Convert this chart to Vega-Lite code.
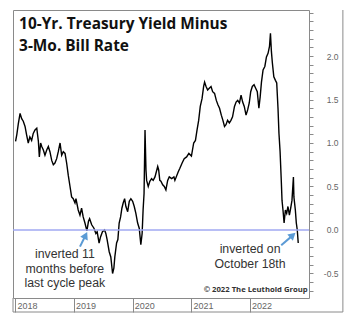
{
  "$schema": "https://vega.github.io/schema/vega-lite/v6.json",
  "width": 296,
  "height": 288,
  "autosize": "none",
  "padding": {"left": 13, "top": 10, "right": 41, "bottom": 24},
  "background": "white",
  "config": {"view": {"stroke": "#8a8a8a", "strokeWidth": 1}, "font": "Liberation Sans"},
  "resolve": {"axis": {"x": "independent", "y": "independent"}},
  "data": {"values": [{}]},
  "datasets": {
    "spread": [
      {"date":"2018-01-02","value":1.02},{"date":"2018-01-10","value":1.10},{"date":"2018-01-19","value":1.22},{"date":"2018-01-30","value":1.34},
      {"date":"2018-02-09","value":1.28},{"date":"2018-02-19","value":1.25},{"date":"2018-03-02","value":1.19},{"date":"2018-03-12","value":1.09},
      {"date":"2018-03-22","value":1.00},{"date":"2018-04-01","value":1.07},{"date":"2018-04-12","value":1.03},{"date":"2018-04-22","value":1.11},
      {"date":"2018-05-03","value":1.15},{"date":"2018-05-14","value":1.17},{"date":"2018-05-24","value":1.02},{"date":"2018-05-30","value":0.84},
      {"date":"2018-06-07","value":1.00},{"date":"2018-06-14","value":0.96},{"date":"2018-06-24","value":0.92},{"date":"2018-07-04","value":0.86},
      {"date":"2018-07-15","value":0.92},{"date":"2018-07-25","value":0.96},{"date":"2018-08-04","value":0.90},{"date":"2018-08-15","value":0.80},
      {"date":"2018-08-25","value":0.75},{"date":"2018-09-04","value":0.77},{"date":"2018-09-15","value":0.82},{"date":"2018-09-25","value":0.90},
      {"date":"2018-10-06","value":1.00},{"date":"2018-10-16","value":0.86},{"date":"2018-10-26","value":0.90},{"date":"2018-11-06","value":0.88},
      {"date":"2018-11-16","value":0.77},{"date":"2018-11-26","value":0.63},{"date":"2018-12-07","value":0.50},{"date":"2018-12-17","value":0.38},
      {"date":"2018-12-27","value":0.36},{"date":"2019-01-07","value":0.31},{"date":"2019-01-13","value":0.36},{"date":"2019-01-27","value":0.23},
      {"date":"2019-02-07","value":0.17},{"date":"2019-02-17","value":0.25},{"date":"2019-02-27","value":0.15},{"date":"2019-03-10","value":0.08},
      {"date":"2019-03-22","value":-0.01},{"date":"2019-04-01","value":0.10},{"date":"2019-04-08","value":0.13},{"date":"2019-04-21","value":0.06},
      {"date":"2019-05-05","value":0.02},{"date":"2019-05-17","value":-0.04},{"date":"2019-05-25","value":-0.02},{"date":"2019-06-06","value":-0.15},
      {"date":"2019-06-15","value":-0.08},{"date":"2019-06-27","value":-0.02},{"date":"2019-07-10","value":0.00},{"date":"2019-07-18","value":-0.04},
      {"date":"2019-07-26","value":-0.11},{"date":"2019-08-08","value":-0.25},{"date":"2019-08-18","value":-0.31},{"date":"2019-08-29","value":-0.50},
      {"date":"2019-09-06","value":-0.44},{"date":"2019-09-12","value":-0.31},{"date":"2019-09-23","value":-0.15},{"date":"2019-10-01","value":-0.11},
      {"date":"2019-10-09","value":0.08},{"date":"2019-10-18","value":0.15},{"date":"2019-10-26","value":0.25},{"date":"2019-11-03","value":0.31},
      {"date":"2019-11-12","value":0.36},{"date":"2019-11-20","value":0.27},{"date":"2019-12-01","value":0.21},{"date":"2019-12-11","value":0.33},
      {"date":"2019-12-21","value":0.36},{"date":"2020-01-01","value":0.33},{"date":"2020-01-11","value":0.27},{"date":"2020-01-21","value":0.19},
      {"date":"2020-02-01","value":0.08},{"date":"2020-02-11","value":0.02},{"date":"2020-02-21","value":-0.17},{"date":"2020-02-29","value":-0.04},
      {"date":"2020-03-06","value":0.23},{"date":"2020-03-12","value":0.42},{"date":"2020-03-18","value":1.15},{"date":"2020-03-24","value":0.69},
      {"date":"2020-03-28","value":0.57},{"date":"2020-04-07","value":0.50},{"date":"2020-04-17","value":0.56},{"date":"2020-04-28","value":0.59},
      {"date":"2020-05-08","value":0.57},{"date":"2020-05-19","value":0.61},{"date":"2020-06-05","value":0.73},{"date":"2020-06-11","value":0.69},
      {"date":"2020-06-18","value":0.57},{"date":"2020-06-25","value":0.56},{"date":"2020-07-06","value":0.52},{"date":"2020-07-16","value":0.50},
      {"date":"2020-07-26","value":0.46},{"date":"2020-08-06","value":0.57},{"date":"2020-08-16","value":0.61},{"date":"2020-08-31","value":0.59},
      {"date":"2020-09-14","value":0.61},{"date":"2020-09-20","value":0.57},{"date":"2020-10-11","value":0.67},{"date":"2020-10-21","value":0.71},
      {"date":"2020-11-04","value":0.77},{"date":"2020-11-17","value":0.82},{"date":"2020-12-02","value":0.84},{"date":"2020-12-16","value":0.88},
      {"date":"2021-01-01","value":0.85},{"date":"2021-01-15","value":1.00},{"date":"2021-01-26","value":1.03},{"date":"2021-02-05","value":1.15},
      {"date":"2021-02-15","value":1.26},{"date":"2021-02-25","value":1.42},{"date":"2021-03-08","value":1.51},{"date":"2021-03-18","value":1.65},
      {"date":"2021-03-24","value":1.70},{"date":"2021-04-02","value":1.65},{"date":"2021-04-12","value":1.61},{"date":"2021-04-22","value":1.63},
      {"date":"2021-05-03","value":1.65},{"date":"2021-05-13","value":1.59},{"date":"2021-05-25","value":1.57},{"date":"2021-06-05","value":1.49},
      {"date":"2021-06-15","value":1.44},{"date":"2021-06-25","value":1.40},{"date":"2021-07-06","value":1.32},{"date":"2021-07-16","value":1.26},
      {"date":"2021-07-26","value":1.19},{"date":"2021-08-04","value":1.21},{"date":"2021-08-14","value":1.26},{"date":"2021-08-25","value":1.23},
      {"date":"2021-09-04","value":1.26},{"date":"2021-09-14","value":1.30},{"date":"2021-09-26","value":1.42},{"date":"2021-10-06","value":1.47},
      {"date":"2021-10-16","value":1.49},{"date":"2021-10-27","value":1.46},{"date":"2021-11-06","value":1.55},{"date":"2021-11-16","value":1.47},
      {"date":"2021-11-26","value":1.42},{"date":"2021-12-07","value":1.32},{"date":"2021-12-17","value":1.38},{"date":"2021-12-27","value":1.46},
      {"date":"2022-01-05","value":1.59},{"date":"2022-01-15","value":1.65},{"date":"2022-01-26","value":1.67},{"date":"2022-02-05","value":1.63},
      {"date":"2022-02-15","value":1.59},{"date":"2022-02-25","value":1.40},{"date":"2022-03-05","value":1.53},{"date":"2022-03-13","value":1.70},
      {"date":"2022-03-23","value":1.84},{"date":"2022-04-03","value":1.88},{"date":"2022-04-13","value":1.99},{"date":"2022-04-23","value":2.03},
      {"date":"2022-05-02","value":2.11},{"date":"2022-05-08","value":2.26},{"date":"2022-05-14","value":2.05},{"date":"2022-05-20","value":1.92},
      {"date":"2022-05-29","value":1.76},{"date":"2022-06-08","value":1.72},{"date":"2022-06-16","value":1.69},{"date":"2022-06-24","value":1.40},
      {"date":"2022-06-30","value":1.11},{"date":"2022-07-07","value":0.90},{"date":"2022-07-15","value":0.54},{"date":"2022-07-19","value":0.34},
      {"date":"2022-07-25","value":0.23},{"date":"2022-08-01","value":0.08},{"date":"2022-08-09","value":0.23},{"date":"2022-08-17","value":0.19},
      {"date":"2022-08-25","value":0.27},{"date":"2022-09-03","value":0.17},{"date":"2022-09-11","value":0.25},{"date":"2022-09-19","value":0.34},
      {"date":"2022-09-28","value":0.61},{"date":"2022-10-01","value":0.38},{"date":"2022-10-10","value":0.23},{"date":"2022-10-16","value":0.08},
      {"date":"2022-10-22","value":0.00},{"date":"2022-10-28","value":-0.15}
    ]
  },
  "layer": [
    {
      "data": {"name": "spread"},
      "mark": {"type": "line", "color": "#000000", "strokeWidth": 1.4, "interpolate": "linear"},
      "encoding": {
        "x": {
          "field": "date", "type": "temporal",
          "scale": {"domain": [{"year": 2017, "month": 12, "date": 17}, {"year": 2023, "month": 1, "date": 3}], "nice": false},
          "axis": {
            "orient": "bottom", "domain": false, "grid": false, "title": null,
            "values": [{"year": 2018, "month": 1, "date": 1}, {"year": 2019, "month": 1, "date": 1}, {"year": 2020, "month": 1, "date": 1}, {"year": 2021, "month": 1, "date": 1}, {"year": 2022, "month": 1, "date": 1}],
            "format": "%Y", "tickSize": 14, "tickColor": "#8a8a8a",
            "labelAlign": "left", "labelBaseline": "middle", "labelPadding": -7, "labelOffset": 1.5,
            "labelFont": "Liberation Sans", "labelFontSize": 9, "labelColor": "#666666", "labelOverlap": false
          }
        },
        "y": {
          "field": "value", "type": "quantitative",
          "scale": {"domain": [-0.782, 2.529], "nice": false, "zero": false},
          "axis": {
            "orient": "right", "domain": false, "grid": false, "title": null,
            "values": [-0.7,-0.6,-0.5,-0.4,-0.3,-0.2,-0.1,0,0.1,0.2,0.3,0.4,0.5,0.6,0.7,0.8,0.9,1,1.1,1.2,1.3,1.4,1.5,1.6,1.7,1.8,1.9,2,2.1,2.2,2.3,2.4,2.5],
            "labelExpr": "(datum.value < 2.25 && abs(datum.value * 2 - round(datum.value * 2)) < 0.001) ? replace(format(datum.value, '.1f'), '\u2212', '-') : ''",
            "tickSize": 4, "tickColor": "#8a8a8a",
            "labelAlign": "right", "labelBaseline": "middle", "labelPadding": 25,
            "labelFont": "Liberation Sans", "labelFontSize": 8.5, "labelColor": "#666666", "labelOverlap": false
          }
        }
      }
    },
    {
      "mark": {"type": "rule", "color": "#a0a8f2", "strokeWidth": 1.3},
      "encoding": {
        "x": {"datum": {"year": 2017, "month": 12, "date": 17}, "type": "temporal", "axis": null},
        "x2": {"datum": {"year": 2023, "month": 1, "date": 3}},
        "y": {"datum": 0, "type": "quantitative", "axis": null}
      }
    },
    {
      "mark": {"type": "rule", "color": "#8a8a8a", "strokeWidth": 1},
      "encoding": {
        "x": {"datum": {"year": 2023, "month": 8, "date": 2}, "type": "temporal", "axis": null},
        "y": {"datum": 2.529, "type": "quantitative", "axis": null},
        "y2": {"datum": -0.943}
      }
    },
    {
      "mark": {"type": "rule", "color": "#8a8a8a", "strokeWidth": 1},
      "encoding": {
        "x": {"datum": {"year": 2017, "month": 12, "date": 17}, "type": "temporal", "axis": null},
        "x2": {"datum": {"year": 2023, "month": 8, "date": 2}},
        "y": {"datum": -0.943, "type": "quantitative", "axis": null}
      }
    },
    {
      "mark": {"type": "rule", "color": "#8a8a8a", "strokeWidth": 1},
      "encoding": {
        "x": {"datum": {"year": 2017, "month": 12, "date": 17}, "type": "temporal", "axis": null},
        "y": {"datum": -0.782, "type": "quantitative", "axis": null},
        "y2": {"datum": -0.943}
      }
    },
    {
      "mark": {"type": "rule", "color": "#5b9bd5", "strokeWidth": 2},
      "encoding": {
        "x": {"datum": {"year": 2019, "month": 2, "date": 7}, "type": "temporal", "axis": null},
        "x2": {"datum": {"year": 2019, "month": 3, "date": 14}},
        "y": {"datum": -0.192, "type": "quantitative", "axis": null},
        "y2": {"datum": -0.061}
      }
    },
    {
      "mark": {"type": "point", "shape": "triangle-up", "filled": true, "color": "#5b9bd5", "opacity": 1, "size": 70, "angle": 26},
      "encoding": {
        "x": {"datum": {"year": 2019, "month": 3, "date": 14}, "type": "temporal", "axis": null},
        "y": {"datum": -0.061, "type": "quantitative", "axis": null}
      }
    },
    {
      "mark": {"type": "rule", "color": "#5b9bd5", "strokeWidth": 2},
      "encoding": {
        "x": {"datum": {"year": 2022, "month": 7, "date": 14}, "type": "temporal", "axis": null},
        "x2": {"datum": {"year": 2022, "month": 9, "date": 22}},
        "y": {"datum": -0.176, "type": "quantitative", "axis": null},
        "y2": {"datum": -0.065}
      }
    },
    {
      "mark": {"type": "point", "shape": "triangle-up", "filled": true, "color": "#5b9bd5", "opacity": 1, "size": 70, "angle": 48},
      "encoding": {
        "x": {"datum": {"year": 2022, "month": 9, "date": 24}, "type": "temporal", "axis": null},
        "y": {"datum": -0.061, "type": "quantitative", "axis": null}
      }
    },
    {
      "mark": {"type": "text", "font": "Open Sans", "fontWeight": "bold", "fontSize": 15.4, "align": "left", "baseline": "alphabetic", "color": "#111111"},
      "encoding": {
        "x": {"datum": {"year": 2018, "month": 1, "date": 24}, "type": "temporal", "axis": null},
        "y": {"datum": 2.31, "type": "quantitative", "axis": null},
        "text": {"value": "10-Yr. Treasury Yield Minus"}
      }
    },
    {
      "mark": {"type": "text", "font": "Open Sans", "fontWeight": "bold", "fontSize": 15.4, "align": "left", "baseline": "alphabetic", "color": "#111111"},
      "encoding": {
        "x": {"datum": {"year": 2018, "month": 1, "date": 24}, "type": "temporal", "axis": null},
        "y": {"datum": 2.06, "type": "quantitative", "axis": null},
        "text": {"value": "3-Mo. Bill Rate"}
      }
    },
    {
      "mark": {"type": "text", "font": "Liberation Sans", "fontSize": 12.3, "align": "center", "baseline": "middle", "lineHeight": 14.7, "color": "#333333"},
      "encoding": {
        "x": {"datum": {"year": 2018, "month": 11, "date": 5}, "type": "temporal", "axis": null},
        "y": {"datum": -0.276, "type": "quantitative", "axis": null},
        "text": {"value": ["inverted 11", "months before", "last cycle peak"]}
      }
    },
    {
      "mark": {"type": "text", "font": "Liberation Sans", "fontSize": 12.3, "align": "center", "baseline": "middle", "lineHeight": 15, "color": "#333333"},
      "encoding": {
        "x": {"datum": {"year": 2022, "month": 1, "date": 1}, "type": "temporal", "axis": null},
        "y": {"datum": -0.213, "type": "quantitative", "axis": null},
        "text": {"value": ["inverted on", "October 18th"]}
      }
    },
    {
      "mark": {"type": "text", "font": "Open Sans", "fontWeight": "bold", "fontSize": 7.7, "align": "right", "baseline": "middle", "color": "#333333"},
      "encoding": {
        "x": {"datum": {"year": 2022, "month": 12, "date": 26}, "type": "temporal", "axis": null},
        "y": {"datum": -0.69, "type": "quantitative", "axis": null},
        "text": {"value": "© 2022 The Leuthold Group"}
      }
    }
  ]
}
